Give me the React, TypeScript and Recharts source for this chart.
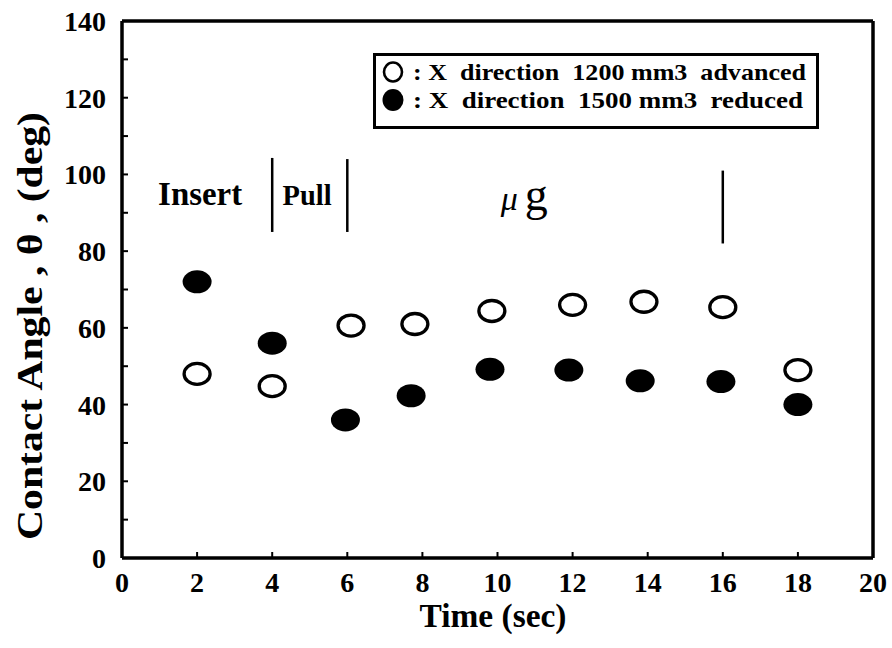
import {
    Label,
    ReferenceDot,
    ReferenceLine,
    Scatter,
    ScatterChart,
    XAxis,
    YAxis,
} from 'recharts'

// open circles: X direction 1200 mm3 advanced
const advancedTime = [2, 4, 6.1, 7.8, 9.85, 12, 13.9, 16, 18]
const advancedAngle = [48, 44.8, 60.6, 61, 64.4, 66, 66.8, 65.4, 49]

// filled circles: X direction 1500 mm3 reduced
const reducedTime = [2, 4, 5.95, 7.7, 9.8, 11.9, 13.8, 15.95, 18]
const reducedAngle = [72, 56, 36, 42.3, 49.2, 49, 46.2, 46, 40]

const seriesNames = [
    ': X  direction  1200 mm3  advanced',
    ': X  direction  1500 mm3  reduced',
]

const xTicks = [0, 2, 4, 6, 8, 10, 12, 14, 16, 18, 20]
const yTicks = [0, 10, 20, 30, 40, 50, 60, 70, 80, 90, 100, 110, 120, 130, 140]

// phase markers (vertical bars)
const phaseBars = [
    { x: 4, y1: 85, y2: 104.3 },
    { x: 6, y1: 85, y2: 104 },
    { x: 16, y1: 82, y2: 101 },
]

const advanced = advancedTime.map((t, i) => ({ x: t, y: advancedAngle[i] }))
const reduced = reducedTime.map((t, i) => ({ x: t, y: reducedAngle[i] }))

const FONT = 'Liberation Serif, Times New Roman, serif'

const OpenDot = (props: any) => (
    <ellipse cx={props.cx} cy={props.cy} rx={13} ry={10.5} fill="#fff" stroke="#000" strokeWidth={3.3} />
)
const FilledDot = (props: any) => (
    <ellipse cx={props.cx} cy={props.cy} rx={14.5} ry={11.5} fill="#000" />
)

const XTick = (props: any) => {
    const { x, y, payload } = props
    const v = payload.value
    return (
        <g>
            {v > 0 && v < 20 && <line x1={x} y1={y} x2={x} y2={y - 6} stroke="#000" strokeWidth={2} />}
            <text x={x} y={y + 34} textAnchor="middle" fontFamily={FONT} fontWeight="bold" fontSize={28} fill="#000">
                {v}
            </text>
        </g>
    )
}

const YTick = (props: any) => {
    const { x, y, payload } = props
    const v = payload.value
    return (
        <g>
            {v > 0 && v < 140 && <line x1={x} y1={y} x2={x + 6} y2={y} stroke="#000" strokeWidth={2} />}
            {v % 20 === 0 && (
                <text x={x - 16} y={y + 10} textAnchor="end" fontFamily={FONT} fontWeight="bold" fontSize={28} fill="#000">
                    {v}
                </text>
            )}
        </g>
    )
}

const phaseText = (text: string, size: number, len: number) => (props: any) => {
    const vb = props.viewBox
    return (
        <text
            x={vb.x + vb.width / 2}
            y={vb.y + vb.height / 2}
            textAnchor="middle"
            fontFamily={FONT}
            fontWeight="bold"
            fontSize={size}
            textLength={len}
            lengthAdjust="spacingAndGlyphs"
            fill="#000"
        >
            {text}
        </text>
    )
}

const muText = (props: any) => {
    const vb = props.viewBox
    const cx = vb.x + vb.width / 2
    const cy = vb.y + vb.height / 2
    return (
        <g fill="#000" fontFamily={FONT}>
            <text x={cx - 6} y={cy} textAnchor="end" fontStyle="italic" fontSize={34}>
                μ
            </text>
            <text x={cx + 1} y={cy} textAnchor="start" fontSize={46}>
                g
            </text>
        </g>
    )
}

function LegendBox() {
    const lens = [393, 390]
    return (
        <svg style={{ position: 'absolute', left: 0, top: 0 }} width={892} height={648}>
            <rect x={374.5} y={54.5} width={443} height={73} fill="#fff" stroke="#000" strokeWidth={3} />
            {seriesNames.map((name, i) => {
                const cy = i === 0 ? 72 : 100
                return (
                    <g key={name}>
                        {i === 0 ? (
                            <ellipse cx={393} cy={cy} rx={9} ry={9.5} fill="#fff" stroke="#000" strokeWidth={2.6} />
                        ) : (
                            <ellipse cx={393} cy={cy} rx={10.5} ry={11} fill="#000" />
                        )}
                        <text
                            x={413}
                            y={cy + 8}
                            fontFamily={FONT}
                            fontWeight="bold"
                            fontSize={23}
                            textLength={lens[i]}
                            lengthAdjust="spacingAndGlyphs"
                            fill="#000"
                            style={{ whiteSpace: 'pre' }}
                        >
                            {name}
                        </text>
                    </g>
                )
            })}
        </svg>
    )
}

export default function App() {
    return (
        <div style={{ position: 'absolute', left: 0, top: 0, width: 892, height: 648, background: '#fff' }}>
            <ScatterChart width={892} height={648} margin={{ top: 21, right: 19, bottom: 0, left: 0 }}>
                <XAxis
                    type="number"
                    dataKey="x"
                    domain={[0, 20]}
                    ticks={xTicks}
                    height={90}
                    tickSize={0}
                    tickMargin={0}
                    tickLine={false}
                    axisLine={{ stroke: '#000', strokeWidth: 3.5 }}
                    tick={<XTick />}
                    interval={0}
                >
                    <Label
                        content={() => (
                            <text x={493} y={627} textAnchor="middle" fontFamily={FONT} fontWeight="bold" fontSize={33} textLength={147} lengthAdjust="spacingAndGlyphs" fill="#000">
                                Time (sec)
                            </text>
                        )}
                    />
                </XAxis>
                <YAxis
                    type="number"
                    dataKey="y"
                    domain={[0, 140]}
                    ticks={yTicks}
                    width={122}
                    tickSize={0}
                    tickMargin={0}
                    tickLine={false}
                    axisLine={{ stroke: '#000', strokeWidth: 3.5 }}
                    tick={<YTick />}
                    interval={0}
                >
                    <Label
                        content={() => (
                            <text
                                x={42}
                                y={326}
                                transform="rotate(-90 42 326)"
                                textAnchor="middle"
                                fontFamily={FONT}
                                fontWeight="bold"
                                fontSize={36}
                                textLength={428}
                                lengthAdjust="spacingAndGlyphs"
                                fill="#000"
                            >
                                Contact Angle , θ , (deg)
                            </text>
                        )}
                    />
                </YAxis>
                <ReferenceLine y={140} stroke="#000" strokeWidth={3.5} />
                <ReferenceLine x={20} stroke="#000" strokeWidth={3.5} />
                {phaseBars.map((b) => (
                    <ReferenceLine
                        key={b.x}
                        segment={[
                            { x: b.x, y: b.y1 },
                            { x: b.x, y: b.y2 },
                        ]}
                        stroke="#000"
                        strokeWidth={2.5}
                    />
                ))}
                <ReferenceDot x={2.08} y={92} r={0} fill="none" stroke="none" label={phaseText('Insert', 33, 84)} />
                <ReferenceDot x={4.93} y={92} r={0} fill="none" stroke="none" label={phaseText('Pull', 30, 49)} />
                <ReferenceDot x={10.7} y={90.7} r={0} fill="none" stroke="none" label={muText} />
                <Scatter name="advanced" data={advanced} shape={OpenDot} isAnimationActive={false} />
                <Scatter name="reduced" data={reduced} shape={FilledDot} isAnimationActive={false} />
            </ScatterChart>
            <LegendBox />
        </div>
    )
}
